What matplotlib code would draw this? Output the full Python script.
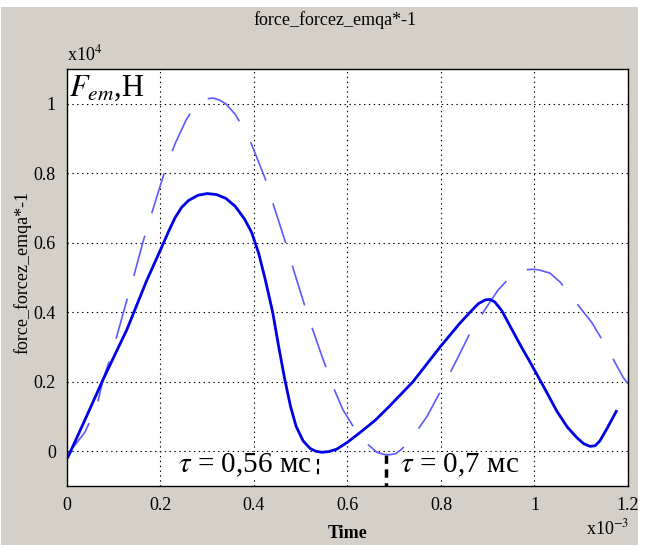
import matplotlib.pyplot as plt
from matplotlib.patches import Rectangle

plt.rcParams['font.family'] = ['Liberation Serif', 'DejaVu Serif']
plt.rcParams['mathtext.fontset'] = 'stix'
plt.rcParams['lines.scale_dashes'] = False

BG = '#d4d0c8'

# force, solid curve (t in 1e-3 s, F in 1e4 N)
t_solid = [0.000, 0.002, 0.040, 0.077, 0.128, 0.170, 0.200, 0.218, 0.231, 0.245,
           0.260, 0.280, 0.300, 0.320, 0.340, 0.360, 0.380, 0.395, 0.410, 0.424,
           0.440, 0.453, 0.466, 0.478, 0.490, 0.505, 0.520, 0.532, 0.545, 0.560,
           0.577, 0.600, 0.627, 0.660, 0.690, 0.740, 0.798, 0.840, 0.862, 0.880,
           0.895, 0.905, 0.915, 0.930, 0.950, 0.970, 0.990, 1.020, 1.048, 1.070,
           1.090, 1.105, 1.119, 1.130, 1.140, 1.155, 1.175]
f_solid = [-0.020, -0.017, 0.095, 0.206, 0.350, 0.490, 0.580, 0.635, 0.672, 0.702,
           0.722, 0.737, 0.742, 0.739, 0.728, 0.705, 0.668, 0.630, 0.570, 0.495,
           0.400, 0.300, 0.206, 0.130, 0.072, 0.030, 0.008, 0.000, -0.003, -0.001,
           0.006, 0.026, 0.054, 0.090, 0.130, 0.200, 0.300, 0.368, 0.400, 0.425,
           0.436, 0.437, 0.430, 0.405, 0.355, 0.305, 0.258, 0.185, 0.115, 0.070,
           0.040, 0.022, 0.014, 0.016, 0.030, 0.065, 0.115]

# force, dashed curve
t_dash = [0.000, 0.010, 0.038, 0.064, 0.077, 0.098, 0.128, 0.145, 0.163, 0.180,
          0.210, 0.231, 0.256, 0.270, 0.285, 0.300, 0.312, 0.325, 0.340, 0.360,
          0.390, 0.424, 0.440, 0.468, 0.484, 0.516, 0.545, 0.570, 0.590, 0.620,
          0.645, 0.663, 0.678, 0.690, 0.703, 0.715, 0.733, 0.770, 0.798, 0.834,
          0.862, 0.895, 0.922, 0.945, 0.969, 0.985, 0.995, 1.010, 1.033, 1.055,
          1.076, 1.123, 1.155, 1.190, 1.200]
f_dash = [-0.020, 0.006, 0.054, 0.130, 0.206, 0.290, 0.435, 0.515, 0.605, 0.680,
          0.810, 0.885, 0.957, 0.985, 1.005, 1.015, 1.017, 1.012, 1.000, 0.970,
          0.900, 0.785, 0.716, 0.599, 0.525, 0.387, 0.275, 0.183, 0.120, 0.054,
          0.018, -0.003, -0.009, -0.010, -0.007, 0.005, 0.029, 0.100, 0.170, 0.264,
          0.340, 0.410, 0.464, 0.497, 0.516, 0.523, 0.524, 0.522, 0.513, 0.487,
          0.450, 0.370, 0.298, 0.212, 0.195]

xticks = [0, 0.2, 0.4, 0.6, 0.8, 1.0, 1.2]
xticklabels = ['0', '0.2', '0.4', '0.6', '0.8', '1', '1.2']
yticks = [0, 0.2, 0.4, 0.6, 0.8, 1.0]
yticklabels = ['0', '0.2', '0.4', '0.6', '0.8', '1']

tau1, tau2 = 0.537, 0.682

fig = plt.figure(figsize=(6.48, 5.45), dpi=100, facecolor='white')
fig.patches.append(Rectangle((0.002, 0), 0.983, 0.987, transform=fig.transFigure,
                             facecolor=BG, edgecolor='none', zorder=-10))

ax = fig.add_axes([0.1034, 0.1083, 0.8657, 0.7647])
ax.set_facecolor('white')

ax.plot(t_dash, f_dash, color='#5a5aff', lw=1.2, dashes=(30, 17))
ax.plot(t_solid, f_solid, color='#0000e6', lw=2.0)

ax.set_xlim(0, 1.2)
ax.set_ylim(-0.1, 1.1)
ax.set_xticks(xticks)
ax.set_xticklabels(xticklabels)
ax.set_yticks(yticks)
ax.set_yticklabels(yticklabels)
ax.tick_params(labelsize=13, length=0, pad=8)
ax.grid(True, color='black', linestyle=(0, (1, 2.5)), lw=0.8)
for s in ax.spines.values():
    s.set_linewidth(1.0)

# tau markers
ax.plot([tau1, tau1], [-0.023, -0.075], color='black', lw=1.5, dashes=(4, 3))
ax.plot([tau2, tau2], [-0.01, -0.1], color='black', lw=2.5, dashes=(6, 4))
ax.text(0.237, -0.062, r'$\tau$' + ' = 0,56 мс', fontsize=21,
        bbox=dict(facecolor='white', edgecolor='none', pad=0.5))
ax.text(0.712, -0.062, r'$\tau$' + ' = 0,7 мс', fontsize=21,
        bbox=dict(facecolor='white', edgecolor='none', pad=0.5))
ax.text(0.005, 1.045, r'$F_{em}$' + ',Н', fontsize=22, va='center',
        bbox=dict(facecolor='white', edgecolor='none', pad=0.5))

fig.text(0.517, 0.963, 'force_forcez_emqa*-1', fontsize=13, ha='center', va='center')
ax.set_xlabel('Time', fontsize=13, fontweight='bold', labelpad=8)
fig.text(0.034, 0.5, 'force_forcez_emqa*-1', fontsize=13, rotation=90,
         ha='center', va='center')
fig.text(0.1034, 0.882, r'x10$^4$', fontsize=13, ha='left', va='bottom')
fig.text(0.905, 0.012, r'x10$^{-3}$', fontsize=13, ha='left', va='bottom')

fig.savefig('out.png', dpi=100, facecolor=fig.get_facecolor())
